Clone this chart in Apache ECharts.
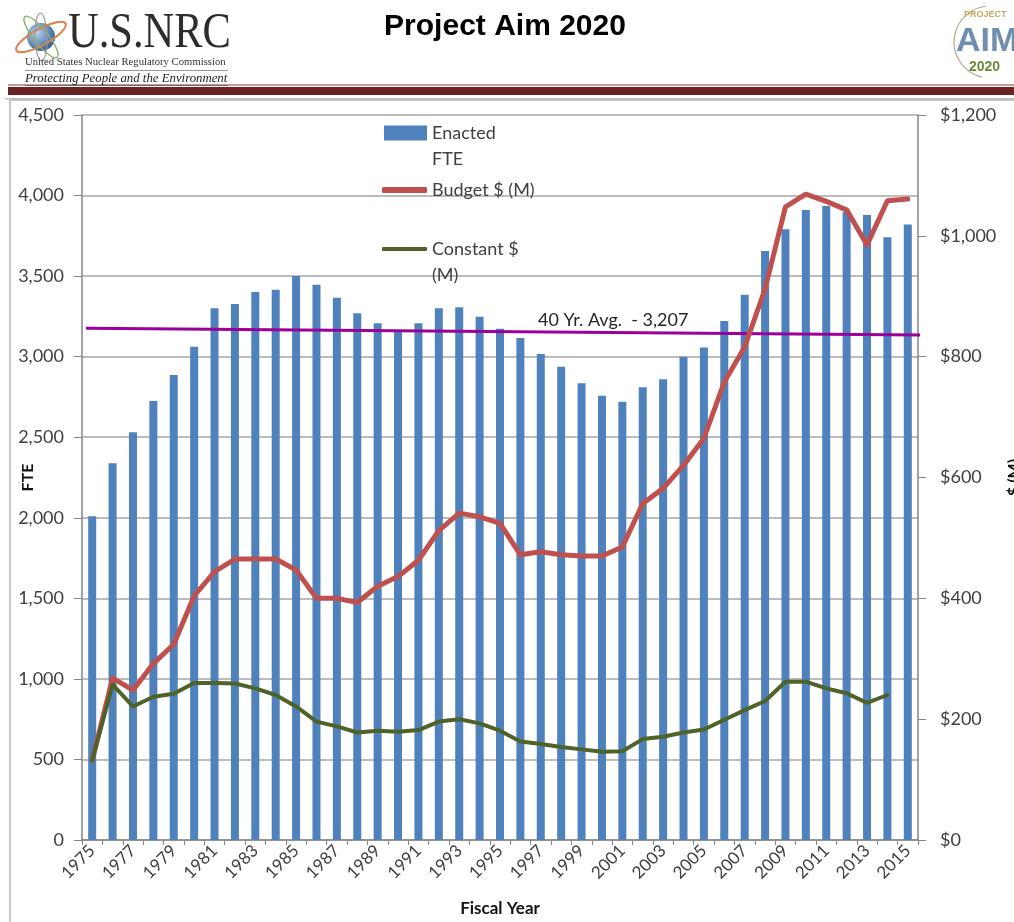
<!DOCTYPE html>
<html><head><meta charset="utf-8">
<script src="https://cdn.jsdelivr.net/npm/echarts@6/dist/echarts.min.js"></script>
<style>html,body{margin:0;padding:0;background:#fff}#c{width:1014px;height:922px}</style>
</head><body><div id="c"></div>
<script>
const years = ['1975','1976','1977','1978','1979','1980','1981','1982','1983','1984','1985','1986','1987','1988','1989','1990','1991','1992','1993','1994','1995','1996','1997','1998','1999','2000','2001','2002','2003','2004','2005','2006','2007','2008','2009','2010','2011','2012','2013','2014','2015'];
const enactedFTE = [2010,2338,2531,2725,2886,3062,3300,3327,3401,3416,3500,3447,3366,3269,3207,3155,3207,3300,3306,3248,3174,3116,3017,2938,2835,2758,2720,2810,2860,3000,3057,3222,3385,3656,3791,3910,3935,3900,3879,3741,3821];
const budgetM = [132,268,248,292,324,404,444,465,465,465,447,400,400,393,420,436,463,512,541,535,524,472,477,472,470,470,485,557,582,620,665,758,816,912,1048,1069,1057,1043,985,1058,1061];
const constantM = [132,257,221,237,242,260,260,259,251,240,221,196,188,178,181,179,182,196,200,193,181,163,159,154,150,146,147,167,171,178,183,199,215,230,262,262,251,243,227,240,null];
const avgLineX = [1974.7, 2015.7];
const avgLineFTE = [3176, 3134];
const avgLabel = '40 Yr. Avg.  - 3,207';

const F = 'Lato, "Open Sans", sans-serif';
const txt = '#404040';
const gridCol = '#a6a6a6';

const chart = echarts.init(document.getElementById('c'), null, {renderer: 'canvas'});
const fmtNum = v => v.toLocaleString('en-US');

const legendBase = {
  orient: 'vertical', padding: 0, itemGap: 0,
  textStyle: {fontFamily: F, fontSize: 18, color: txt, lineHeight: 26},
  selectedMode: false
};

chart.setOption({
  animation: false,
  backgroundColor: '#fff',
  grid: {left: 82, right: 96, top: 115, bottom: 82, containLabel: false, outerBoundsMode: 'none'},
  legend: [
    Object.assign({}, legendBase, {
      left: 384, top: 94, itemWidth: 43, itemHeight: 15,
      data: [{name: 'Enacted FTE', icon: 'rect'}],
      formatter: () => ' \nEnacted\nFTE'
    }),
    Object.assign({}, legendBase, {
      left: 382, top: 177, itemWidth: 45, itemHeight: 6,
      data: [{name: 'Budget $ (M)', icon: 'roundRect'}]
    }),
    Object.assign({}, legendBase, {
      left: 382, top: 210, itemWidth: 45, itemHeight: 4,
      data: [{name: 'Constant $ (M)', icon: 'roundRect'}],
      formatter: () => ' \nConstant $\n(M)'
    })
  ],
  xAxis: [{
    type: 'category', data: years, boundaryGap: true,
    axisLine: {lineStyle: {color: '#868686', width: 1.5}},
    axisTick: {show: true, interval: 0, length: 5, lineStyle: {color: '#868686'}},
    axisLabel: {interval: 1, rotate: 45, fontFamily: F, fontSize: 17, color: txt, margin: 8},
    name: 'Fiscal Year', nameLocation: 'middle', nameGap: 60, nameMoveOverlap: false,
    nameTextStyle: {fontFamily: F, fontSize: 17, fontWeight: 'bold', color: '#111'}
  }, {
    type: 'value', min: 1974.5, max: 2015.5, show: false
  }],
  yAxis: [{
    type: 'value', min: 0, max: 4500, interval: 500, position: 'left',
    axisLine: {show: true, lineStyle: {color: '#868686', width: 1.5}},
    axisTick: {show: true, length: 8, lineStyle: {color: '#868686'}},
    axisLabel: {fontFamily: F, fontSize: 18, color: txt, margin: 18, formatter: fmtNum},
    splitLine: {show: true, lineStyle: {color: gridCol, width: 1.5}},
    name: 'FTE', nameLocation: 'middle', nameGap: 46, nameMoveOverlap: false,
    nameTextStyle: {fontFamily: F, fontSize: 16, fontWeight: 'bold', color: '#111'}
  }, {
    type: 'value', min: 0, max: 1200, interval: 200, position: 'right',
    axisLine: {show: true, lineStyle: {color: '#868686', width: 1.5}},
    axisTick: {show: true, length: 8, lineStyle: {color: '#868686'}},
    axisLabel: {fontFamily: F, fontSize: 18, color: txt, margin: 22, formatter: v => '$' + fmtNum(v)},
    splitLine: {show: false},
    name: '$ (M)', nameLocation: 'middle', nameGap: 88, nameRotate: 90, nameMoveOverlap: false,
    nameTextStyle: {fontFamily: F, fontSize: 16, fontWeight: 'bold', color: '#111'}
  }],
  series: [{
    name: 'Enacted FTE', type: 'bar', data: enactedFTE, barWidth: 8,
    itemStyle: {color: '#4F81BD'}, yAxisIndex: 0
  }, {
    name: '40 Yr. Avg.', type: 'line', xAxisIndex: 1, yAxisIndex: 0,
    data: avgLineX.map((x, i) => [x, avgLineFTE[i]]),
    symbol: 'none', clip: false, lineStyle: {color: '#9B009B', width: 3}, z: 3
  }, {
    name: 'Budget $ (M)', type: 'line', data: budgetM, yAxisIndex: 1,
    symbol: 'none', lineStyle: {color: '#C0504D', width: 5, join: 'round', cap: 'round'},
    itemStyle: {color: '#C0504D'}, z: 4
  }, {
    name: 'Constant $ (M)', type: 'line', data: constantM, yAxisIndex: 1,
    symbol: 'none', lineStyle: {color: '#4F6228', width: 4, join: 'round', cap: 'round'},
    itemStyle: {color: '#4F6228'}, z: 4
  }],
  graphic: [
    {type: 'rect', shape: {x: 10, y: 100, width: 1100, height: 900}, style: {fill: 'none', stroke: '#b5b5b5', lineWidth: 1.5}, silent: true, z: -10},
    {type: 'rect', shape: {x: 8, y: 84, width: 1010, height: 2}, style: {fill: '#c89a9a'}, silent: true},
    {type: 'rect', shape: {x: 8, y: 87, width: 1010, height: 8}, style: {fill: '#6a2222'}, silent: true},
    {type: 'rect', shape: {x: 5, y: 98, width: 1010, height: 1.5}, style: {fill: '#bdbdbd'}, silent: true},
    {type: 'text', x: 505, y: 12, style: {text: 'Project Aim 2020', font: 'bold 30px "Liberation Sans", Arial, sans-serif', fill: '#000', align: 'center'}},
    {type: 'circle', shape: {cx: 41, cy: 37, r: 14}, style: {fill: new echarts.graphic.RadialGradient(0.35, 0.35, 0.8, [{offset: 0, color: '#b8d4f0'}, {offset: 1, color: '#1d4c8a'}])}},
    {type: 'ellipse', shape: {cx: 41, cy: 37, rx: 28, ry: 8}, rotation: 0.5, originX: 41, originY: 37, style: {fill: 'none', stroke: '#d9824a', lineWidth: 2}},
    {type: 'ellipse', shape: {cx: 41, cy: 37, rx: 26, ry: 7}, rotation: -0.9, originX: 41, originY: 37, style: {fill: 'none', stroke: '#8cb36a', lineWidth: 1.5}},
    {type: 'ellipse', shape: {cx: 41, cy: 37, rx: 24, ry: 6}, rotation: 1.6, originX: 41, originY: 37, style: {fill: 'none', stroke: '#9a9a9a', lineWidth: 1.2}},
    {type: 'text', x: 68, y: 9, scaleX: 0.85, style: {text: 'U.S.NRC', font: '50px "Liberation Serif", "DejaVu Serif", serif', fill: '#2d2d2d'}},
    {type: 'text', x: 25, y: 57, style: {text: 'United States Nuclear Regulatory Commission', font: '10.7px "Liberation Serif", serif', fill: '#333'}},
    {type: 'rect', shape: {x: 25, y: 70, width: 203, height: 0.8}, style: {fill: '#777'}},
    {type: 'text', x: 25, y: 72, style: {text: 'Protecting People and the Environment', font: 'italic 12.8px "Liberation Serif", serif', fill: '#222'}},
    {type: 'rect', shape: {x: 25, y: 85, width: 203, height: 0.8}, style: {fill: '#555'}},
    {type: 'arc', shape: {cx: 990, cy: 42, r: 36, startAngle: 1.8, endAngle: 4.6}, style: {stroke: '#b0a890', lineWidth: 1.2, fill: 'none'}},
    {type: 'text', x: 964, y: 10, style: {text: 'PROJECT', font: 'bold 9px "Liberation Sans", sans-serif', fill: '#c8a860'}},
    {type: 'text', x: 956, y: 25, style: {text: 'AIM', font: 'bold 34px "Liberation Sans", sans-serif', fill: '#6f8fae'}},
    {type: 'text', x: 969, y: 60, style: {text: '2020', font: 'bold 14px "Liberation Sans", sans-serif', fill: '#6b8b3a'}},
    {type: 'text', x: 538, y: 311, style: {text: avgLabel, font: '18px ' + F, fill: '#262626'}, z: 10}
  ]
});
</script></body></html>
